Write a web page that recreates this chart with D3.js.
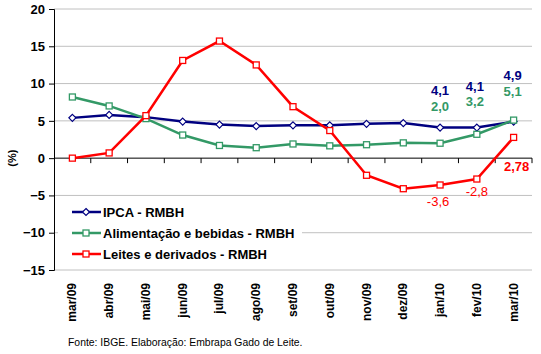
<!DOCTYPE html>
<html>
<head>
<meta charset="utf-8">
<script src="https://cdn.jsdelivr.net/npm/d3@7"></script>
<style>
  body { margin: 0; background: #fff; }
  svg text { font-family: Arial, "Liberation Sans", Helvetica, sans-serif; }
</style>
</head>
<body>
<div id="viz"></div>
<script>
const width = 541;
const height = 354;
const margin = {top: 9, right: 9, bottom: 84, left: 54};

const months = ["mar/09","abr/09","mai/09","jun/09","jul/09","ago/09","set/09","out/09","nov/09","dez/09","jan/10","fev/10","mar/10"];
const ipca = [5.4, 5.8, 5.5, 4.9, 4.5, 4.3, 4.4, 4.4, 4.6, 4.7, 4.1, 4.1, 4.9];
const alimentacao = [8.2, 7.0, 5.3, 3.1, 1.7, 1.4, 1.9, 1.65, 1.8, 2.05, 2.0, 3.2, 5.1];
const leites = [0.0, 0.7, 5.7, 13.1, 15.7, 12.5, 6.9, 3.7, -2.3, -4.1, -3.6, -2.8, 2.78];
const yTicks = [20, 15, 10, 5, 0, -5, -10, -15];

const seriesList = [
  { label: "IPCA - RMBH", values: ipca, color: "#000080", marker: "diamond" },
  { label: "Alimentação e bebidas - RMBH", values: alimentacao, color: "#339966", marker: "square" },
  { label: "Leites e derivados - RMBH", values: leites, color: "#FF0000", marker: "square" }
];

// data labels shown on the chart (series index, month index, text)
const dataLabels = [
  { s: 0, i: 10, text: "4,1" }, { s: 0, i: 11, text: "4,1" }, { s: 0, i: 12, text: "4,9" },
  { s: 1, i: 10, text: "2,0" }, { s: 1, i: 11, text: "3,2" }, { s: 1, i: 12, text: "5,1" },
  { s: 2, i: 10, text: "-3,6" }, { s: 2, i: 11, text: "-2,8" }, { s: 2, i: 12, text: "2,78" }
];

const svg = d3.select("#viz").append("svg")
  .attr("width", width)
  .attr("height", height);

const x = d3.scaleBand()
  .domain(months)
  .range([margin.left, width - margin.right]);

const y = d3.scaleLinear()
  .domain([-15, 20])
  .range([height - margin.bottom, margin.top]);

// gridlines
svg.append("g")
  .selectAll("line")
  .data(yTicks.filter(d => d !== 0))
  .join("line")
    .attr("x1", margin.left)
    .attr("x2", width - margin.right)
    .attr("y1", d => y(d))
    .attr("y2", d => y(d))
    .attr("stroke", "#c0c0c0")
    .attr("stroke-width", 1);

// y axis
const yAxis = svg.append("g")
  .attr("transform", "translate(" + margin.left + ",0)")
  .call(d3.axisLeft(y).tickValues(yTicks).tickSize(5).tickPadding(4));
yAxis.attr("font-family", null);
yAxis.select(".domain").attr("stroke", "#000");
yAxis.selectAll("text")
  .style("font-size", "13px")
  .style("font-weight", "bold")
  .attr("fill", "#000");

// x axis at zero, ticks at band boundaries
svg.append("line")
  .attr("x1", margin.left)
  .attr("x2", width - margin.right)
  .attr("y1", y(0))
  .attr("y2", y(0))
  .attr("stroke", "#000");

const bounds = months.map(m => x(m)).concat([x(months[months.length - 1]) + x.bandwidth()]);
svg.append("g")
  .selectAll("line")
  .data(bounds.slice(1))
  .join("line")
    .attr("x1", d => d)
    .attr("x2", d => d)
    .attr("y1", y(0))
    .attr("y2", y(0) + 5)
    .attr("stroke", "#000");

// month labels at the bottom, rotated
svg.append("g")
  .selectAll("text")
  .data(months)
  .join("text")
    .attr("transform", d => "translate(" + (x(d) + x.bandwidth() / 2 + 4) + "," + (height - margin.bottom + 13) + ") rotate(-90)")
    .attr("text-anchor", "end")
    .style("font-size", "12px")
    .style("font-weight", "bold")
    .text(d => d);

// y label
svg.append("text")
  .attr("transform", "translate(16," + y(0) + ") rotate(-90)")
  .attr("text-anchor", "middle")
  .style("font-size", "11px")
  .style("font-weight", "bold")
  .text("(%)");

// lines and markers
const line = d3.line()
  .x((d, i) => x(months[i]) + x.bandwidth() / 2)
  .y(d => y(d));

const drawMarker = (g, s, cx, cy) => {
  if (s.marker === "diamond") {
    g.append("path")
      .attr("d", `M${cx},${cy - 3.5}L${cx + 3.5},${cy}L${cx},${cy + 3.5}L${cx - 3.5},${cy}Z`)
      .attr("fill", "#fff")
      .attr("stroke", s.color)
      .attr("stroke-width", 1.2);
  } else {
    g.append("rect")
      .attr("x", cx - 3)
      .attr("y", cy - 3)
      .attr("width", 6)
      .attr("height", 6)
      .attr("fill", "#fff")
      .attr("stroke", s.color)
      .attr("stroke-width", 1.3);
  }
};

seriesList.forEach(s => {
  const g = svg.append("g");
  g.append("path")
    .attr("d", line(s.values))
    .attr("fill", "none")
    .attr("stroke", s.color)
    .attr("stroke-width", 2.5);
  s.values.forEach((v, i) => {
    drawMarker(g, s, x(months[i]) + x.bandwidth() / 2, y(v));
  });
});

// data labels (offsets from their points)
const labelOffsets = {
  "0-10": [0, -37], "0-11": [-2, -41], "0-12": [-1, -46],
  "1-10": [0, -37], "1-11": [-2, -33], "1-12": [-1, -29],
  "2-10": [-2, 16], "2-11": [0, 12], "2-12": [3, 29]
};
svg.append("g")
  .selectAll("text")
  .data(dataLabels)
  .join("text")
    .attr("x", d => x(months[d.i]) + x.bandwidth() / 2 + labelOffsets[d.s + "-" + d.i][0])
    .attr("y", d => y(seriesList[d.s].values[d.i]) + labelOffsets[d.s + "-" + d.i][1])
    .attr("dy", "0.35em")
    .attr("text-anchor", "middle")
    .attr("fill", d => seriesList[d.s].color)
    .style("font-size", "13px")
    .style("font-weight", d => (d.s === 2 && d.i < 12) ? "normal" : "bold")
    .text(d => d.text);

// legend
const legend = svg.append("g");
legend.append("rect")
  .attr("x", 58)
  .attr("y", 201)
  .attr("width", 244)
  .attr("height", 66)
  .attr("fill", "#fff");

seriesList.forEach((s, k) => {
  const ly = 212 + k * 21;
  legend.append("line")
    .attr("x1", 72)
    .attr("x2", 101)
    .attr("y1", ly)
    .attr("y2", ly)
    .attr("stroke", s.color)
    .attr("stroke-width", 2.5);
  drawMarker(legend, s, 86, ly);
  legend.append("text")
    .attr("x", 103)
    .attr("y", ly)
    .attr("dy", "0.36em")
    .style("font-size", "13px")
    .style("font-weight", "bold")
    .text(s.label);
});

// source note
svg.append("text")
  .attr("x", 68)
  .attr("y", 346)
  .style("font-size", "10.4px")
  .text("Fonte: IBGE. Elaboração: Embrapa Gado de Leite.");
</script>
</body>
</html>
